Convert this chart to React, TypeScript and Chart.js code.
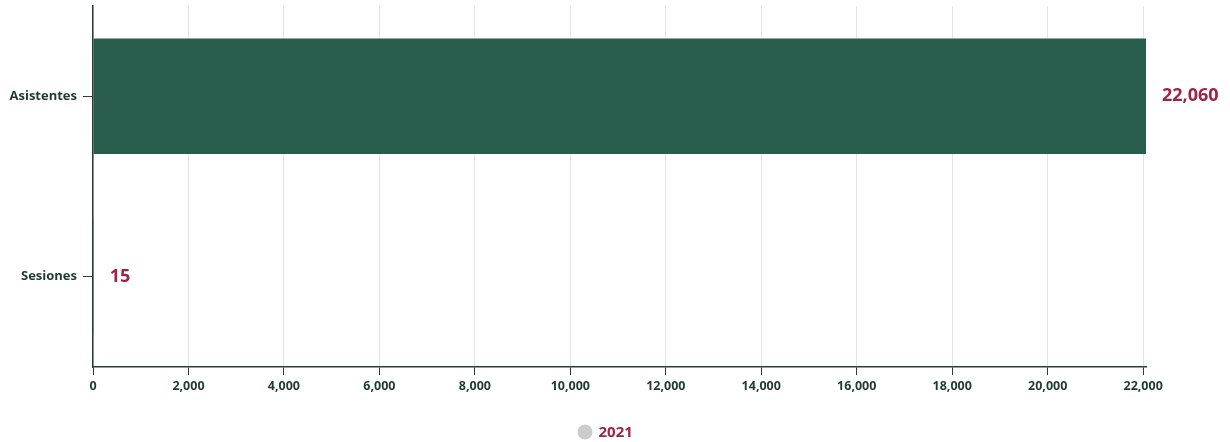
import React, { useEffect, useRef } from "react";
import { Chart, registerables } from "chart.js";

Chart.register(...registerables);

const categories = ["Asistentes", "Sesiones"];
const values2021 = [22060, 15];
const seriesLabel = "2021";
const xTickStep = 2000;
const xTickMax = 22000;

const FONT = "'Open Sans', Lato, sans-serif";
const GREEN = "#285C4D";
const CRIMSON = "#9D2449";
const TEXT = "#1F3B32";
const AXIS = "#2E3B36";

const valueLabels = {
  id: "valueLabels",
  afterDatasetsDraw(chart: any) {
    const ctx = chart.ctx;
    const meta = chart.getDatasetMeta(0);
    ctx.save();
    ctx.font = `bold 18px ${FONT}`;
    ctx.fillStyle = CRIMSON;
    ctx.textAlign = "left";
    ctx.textBaseline = "middle";
    meta.data.forEach((bar: any, i: number) => {
      const v = chart.data.datasets[0].data[i] as number;
      ctx.fillText(v.toLocaleString("en-US"), bar.x + 16, bar.y);
    });
    ctx.restore();
  },
};

const customLegend = {
  id: "customLegend",
  afterDraw(chart: any) {
    const ctx = chart.ctx;
    const text = chart.data.datasets[0].label;
    ctx.save();
    ctx.font = `bold 15px ${FONT}`;
    const r = 7.5;
    const gap = 6;
    const cx = (chart.chartArea.left + chart.chartArea.right) / 2 - 42;
    const cy = 432;
    ctx.fillStyle = "#CCCCCC";
    ctx.beginPath();
    ctx.arc(cx + r, cy, r, 0, Math.PI * 2);
    ctx.fill();
    ctx.fillStyle = CRIMSON;
    ctx.textAlign = "left";
    ctx.textBaseline = "middle";
    ctx.fillText(text, cx + r * 2 + gap, cy + 1);
    ctx.restore();
  },
};

export default function App() {
  const ref = useRef<HTMLCanvasElement>(null);
  useEffect(() => {
    if (!ref.current) return;
    const chart = new Chart(ref.current, {
      type: "bar",
      data: {
        labels: categories,
        datasets: [
          {
            label: seriesLabel,
            data: values2021,
            backgroundColor: GREEN,
            borderWidth: 0,
            categoryPercentage: 1,
            barPercentage: 0.64,
          },
        ],
      },
      options: {
        indexAxis: "y",
        animation: false,
        responsive: false,
        maintainAspectRatio: false,
        layout: { padding: { top: 6, right: 84, left: 0, bottom: 0 } },
        plugins: {
          tooltip: { enabled: false },
          legend: { display: false },
        },
        scales: {
          x: {
            min: 0,
            max: values2021[0],
            afterBuildTicks: (scale: any) => {
              const t: any[] = [];
              for (let v = 0; v <= xTickMax; v += xTickStep) t.push({ value: v });
              scale.ticks = t;
            },
            afterFit: (scale: any) => {
              scale.height = 75;
            },
            ticks: {
              color: TEXT,
              font: { family: FONT, size: 12.5, weight: "bold" },
              padding: 4,
              autoSkip: false,
              maxRotation: 0,
              callback: (v: any) => Number(v).toLocaleString("en-US"),
            },
            grid: {
              color: "#E3E3E3",
              tickColor: AXIS,
              tickLength: 8,
              lineWidth: 1,
            },
            border: { color: AXIS, width: 1.5 },
          },
          y: {
            afterFit: (scale: any) => {
              scale.width = 93;
              scale.paddingTop = 0;
              scale.paddingBottom = 0;
            },
            ticks: {
              color: TEXT,
              font: { family: FONT, size: 13, weight: "bold" },
              padding: 6,
            },
            grid: {
              offset: false,
              drawOnChartArea: false,
              drawTicks: true,
              tickLength: 10,
              tickColor: AXIS,
            },
            border: { color: AXIS, width: 1.5 },
          },
        },
      },
      plugins: [valueLabels, customLegend],
    } as any);
    return () => chart.destroy();
  }, []);
  return (
    <div style={{ position: "fixed", left: 0, top: 0, width: 1230, height: 442, background: "#fff" }}>
      <canvas ref={ref} width={1230} height={442} />
    </div>
  );
}
